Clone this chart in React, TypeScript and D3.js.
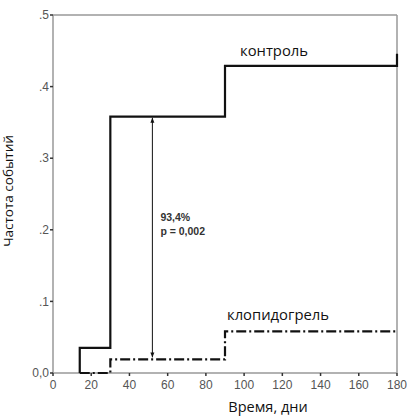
import React from "react";
import * as d3 from "d3";

// step points: [day, rate]
const controlDays = [14, 14, 30, 30, 90, 90, 180, 180];
const controlRates = [0, 0.035, 0.035, 0.358, 0.358, 0.429, 0.429, 0.446];
const clopiDays = [14, 30, 30, 90, 90, 180];
const clopiRates = [0, 0, 0.019, 0.019, 0.058, 0.058];

const xTicks = [0, 20, 40, 60, 80, 100, 120, 140, 160, 180];
const yTicks = [0, 0.1, 0.2, 0.3, 0.4, 0.5];
const yTickLabels = ["0,0", ".1", ".2", ".3", ".4", ".5"];

const arrowDay = 52;
const arrowFrom = 0.358;
const arrowTo = 0.019;

const margin = { top: 15, right: 10, bottom: 44, left: 53 };
const W = 407;
const H = 417;

export default function App() {
  const x = d3.scaleLinear().domain([0, 180]).range([margin.left, W - margin.right]);
  const y = d3.scaleLinear().domain([0, 0.5]).range([H - margin.bottom, margin.top]);

  const line = d3
    .line<[number, number]>()
    .x((d) => x(d[0]))
    .y((d) => y(d[1]));

  const ctrl = controlDays.map((d, i) => [d, controlRates[i]] as [number, number]);
  const clop = clopiDays.map((d, i) => [d, clopiRates[i]] as [number, number]);

  const ax = x(arrowDay);
  const yTop = y(arrowFrom);
  const yBot = y(arrowTo);

  return (
    <svg width={W} height={H} style={{ position: "absolute", left: 0, top: 0, background: "#fff" }}>
      <defs>
        <marker id="ah" viewBox="0 0 10 10" refX="10" refY="5" markerWidth="5" markerHeight="6" orient="auto-start-reverse">
          <path d="M0,1 L10,5 L0,9 z" fill="#111" />
        </marker>
      </defs>
      {/* frame */}
      <line x1={x(0)} x2={x(0)} y1={y(0.5)} y2={y(0)} stroke="#999" strokeWidth={1.5} />
      <line x1={x(0)} x2={x(180)} y1={y(0.5)} y2={y(0.5)} stroke="#999" strokeWidth={1.5} />
      <line x1={x(180)} x2={x(180)} y1={y(0.5)} y2={y(0)} stroke="#999" strokeWidth={1.5} />
      <line x1={x(0)} x2={x(180)} y1={y(0)} y2={y(0)} stroke="#999" strokeWidth={1.5} />
      {/* y ticks */}
      {yTicks.map((t, i) => (
        <g key={t}>
          <line x1={x(0) - 3} x2={x(0)} y1={y(t)} y2={y(t)} stroke="#333" strokeWidth={1.5} />
          <text x={x(0) - 4} y={y(t)} dy="0.35em" textAnchor="end" fontFamily="Liberation Sans, Arial, sans-serif" fontSize={12} fill="#555">
            {yTickLabels[i]}
          </text>
        </g>
      ))}
      {/* x ticks */}
      {xTicks.map((t) => (
        <g key={t}>
          <line x1={x(t)} x2={x(t)} y1={y(0)} y2={y(0) + 3} stroke="#333" strokeWidth={1.5} />
          <text x={x(t)} y={y(0) + 16} textAnchor="middle" fontFamily="Liberation Sans, Arial, sans-serif" fontSize={12} fill="#555">
            {t}
          </text>
        </g>
      ))}
      {/* series */}
      <path d={line(ctrl) || ""} fill="none" stroke="#111" strokeWidth={2.2} />
      <path d={line(clop) || ""} fill="none" stroke="#111" strokeWidth={2.2} strokeDasharray="10,3,2,3" />
      {/* difference arrow */}
      <line x1={ax} x2={ax} y1={yTop + 1} y2={yBot - 2} stroke="#111" strokeWidth={1} markerStart="url(#ah)" markerEnd="url(#ah)" />
      <text x={ax + 8} y={221} fontFamily="Liberation Sans, Arial, sans-serif" fontSize={10.5} fontWeight="bold" fill="#333">
        93,4%
      </text>
      <text x={ax + 8} y={235} fontFamily="Liberation Sans, Arial, sans-serif" fontSize={10.5} fontWeight="bold" fill="#333">
        p = 0,002
      </text>
      {/* series labels */}
      <text x={240} y={56} fontFamily="Open Sans, Noto Sans, sans-serif" fontSize={14.8} fill="#111">
        контроль
      </text>
      <text x={227} y={320} fontFamily="Open Sans, Noto Sans, sans-serif" fontSize={14.8} fill="#111">
        клопидогрель
      </text>
      {/* axis titles */}
      <text
        transform={`translate(13,191) rotate(-90)`}
        textAnchor="middle"
        fontFamily="Open Sans, Noto Sans, sans-serif"
        fontSize={13.5}
        fill="#111"
      >
        Частота событий
      </text>
      <text x={268} y={412} textAnchor="middle" fontFamily="Open Sans, Noto Sans, sans-serif" fontSize={14.5} fill="#111">
        Время, дни
      </text>
    </svg>
  );
}
